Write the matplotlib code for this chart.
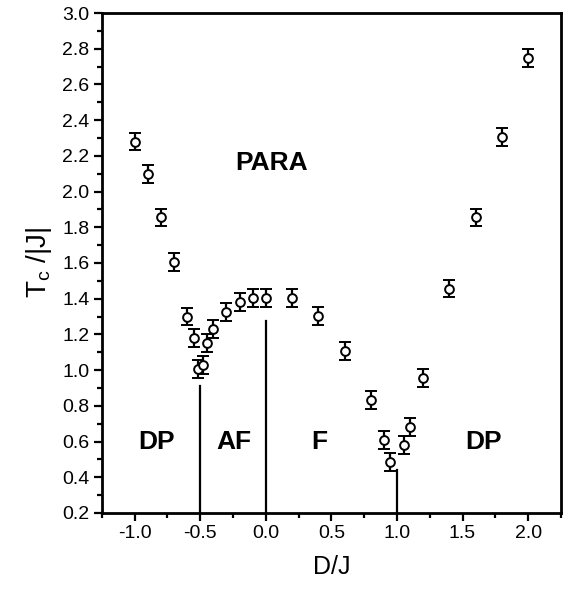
import matplotlib
matplotlib.use("Agg")
import matplotlib.pyplot as plt
from matplotlib.ticker import MultipleLocator

plt.rcParams['font.family'] = ['Liberation Sans', 'DejaVu Sans']

# critical temperature vs D/J
dj = [-1.0, -0.9, -0.8, -0.7, -0.6, -0.55, -0.52, -0.48, -0.45, -0.4, -0.3, -0.2, -0.1, 0.0,
      0.2, 0.4, 0.6, 0.8, 0.9, 0.95, 1.05, 1.1, 1.2, 1.4, 1.6, 1.8, 2.0]
tc = [2.28, 2.10, 1.855, 1.607, 1.30, 1.178, 1.005, 1.03, 1.154, 1.229, 1.327, 1.38, 1.405, 1.405,
      1.405, 1.305, 1.107, 0.833, 0.609, 0.484, 0.581, 0.683, 0.958, 1.457, 1.855, 2.305, 2.75]
err = [0.05] * len(dj)

# phase boundaries (x, top)
bounds_x = [-0.5, 0.0, 1.0]
bounds_top = [0.913, 1.277, 0.44]

phase_labels = ['PARA', 'DP', 'AF', 'F', 'DP']
phase_x = [0.045, -0.83, -0.24, 0.41, 1.66]
phase_y = [2.16, 0.60, 0.60, 0.60, 0.60]

fig = plt.figure(figsize=(5.66, 5.91), dpi=100)
ax = fig.add_axes([0.180, 0.132, 0.811, 0.846])

ax.errorbar(dj, tc, yerr=err, fmt='o', mfc='white', mec='black', color='black',
            ms=6.3, mew=1.4, elinewidth=1.6, capsize=4, capthick=1.6, zorder=3)

for bx, bt in zip(bounds_x, bounds_top):
    ax.plot([bx, bx], [0.2, bt], color='black', lw=1.6)

for lab, px, py in zip(phase_labels, phase_x, phase_y):
    ax.text(px, py, lab, fontsize=19, fontweight='bold', ha='center', va='center')

ax.set_xlim(-1.25, 2.25)
ax.set_ylim(0.2, 3.0)
ax.xaxis.set_major_locator(MultipleLocator(0.5))
ax.xaxis.set_minor_locator(MultipleLocator(0.25))
ax.yaxis.set_major_locator(MultipleLocator(0.2))
ax.yaxis.set_minor_locator(MultipleLocator(0.1))
ax.set_xticks([-1.0, -0.5, 0.0, 0.5, 1.0, 1.5, 2.0])
ax.set_xticklabels(['-1.0', '-0.5', '0.0', '0.5', '1.0', '1.5', '2.0'])
ax.yaxis.set_major_formatter(matplotlib.ticker.FormatStrFormatter('%.1f'))

ax.tick_params(which='major', direction='out', length=6, width=1.6, labelsize=14, pad=3)
ax.tick_params(which='minor', direction='out', length=3.5, width=1.6)
for s in ax.spines.values():
    s.set_linewidth(2)

ax.set_xlabel('D/J', fontsize=18, labelpad=9)
ax.set_ylabel(r'T$_\mathregular{c}$ /|J|', fontsize=20, labelpad=6)

fig.savefig('out.png', dpi=100)
